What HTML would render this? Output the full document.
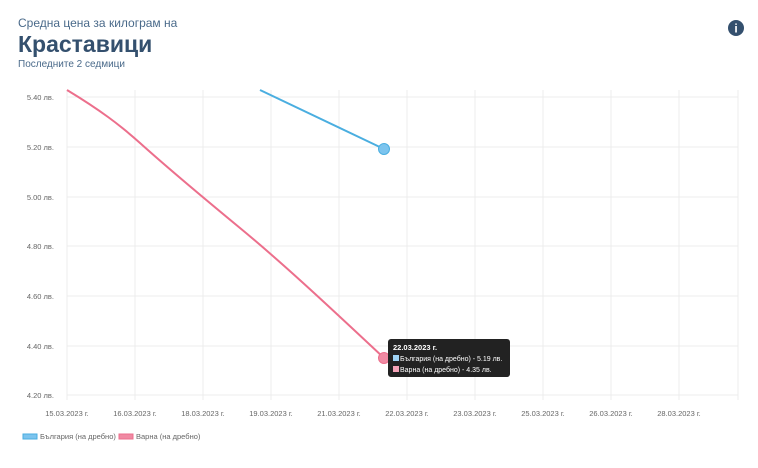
<!DOCTYPE html>
<html><head><meta charset="utf-8"><style>
body{margin:0;width:758px;height:463px;background:#fff;overflow:hidden;font-family:"Liberation Sans",sans-serif;}
</style></head><body>
<svg width="758" height="463" xmlns="http://www.w3.org/2000/svg" font-family="Liberation Sans, sans-serif">
<text x="18" y="27" font-size="12" fill="#4a6a8a">Средна цена за килограм на</text>
<text x="18" y="52" font-size="23" font-weight="bold" fill="#34506e">Краставици</text>
<text x="18" y="67" font-size="10" fill="#4a6a8a">Последните 2 седмици</text>
<circle cx="736" cy="28" r="8" fill="#34506e"/>
<text x="736" y="32.5" font-size="12" font-weight="bold" fill="#fff" text-anchor="middle">i</text>
<g stroke="#ececec" stroke-width="1">
<line x1="67" y1="97" x2="738" y2="97"/><line x1="67" y1="147" x2="738" y2="147"/>
<line x1="67" y1="197" x2="738" y2="197"/><line x1="67" y1="246" x2="738" y2="246"/>
<line x1="67" y1="296" x2="738" y2="296"/><line x1="67" y1="346" x2="738" y2="346"/>
<line x1="67" y1="395" x2="738" y2="395"/>
<line x1="67" y1="90" x2="67" y2="400"/><line x1="135" y1="90" x2="135" y2="400"/>
<line x1="203" y1="90" x2="203" y2="400"/><line x1="271" y1="90" x2="271" y2="400"/>
<line x1="339" y1="90" x2="339" y2="400"/><line x1="407" y1="90" x2="407" y2="400"/>
<line x1="475" y1="90" x2="475" y2="400"/><line x1="543" y1="90" x2="543" y2="400"/>
<line x1="611" y1="90" x2="611" y2="400"/><line x1="679" y1="90" x2="679" y2="400"/>
<line x1="738" y1="90" x2="738" y2="400"/>
</g>
<g font-size="7.5" fill="#666" text-anchor="end">
<text x="54" y="100">5.40 лв.</text><text x="54" y="150">5.20 лв.</text>
<text x="54" y="200">5.00 лв.</text><text x="54" y="249">4.80 лв.</text>
<text x="54" y="299">4.60 лв.</text><text x="54" y="349">4.40 лв.</text>
<text x="54" y="398">4.20 лв.</text>
</g>
<g font-size="7.5" fill="#666" text-anchor="middle">
<text x="67" y="416">15.03.2023 г.</text><text x="135" y="416">16.03.2023 г.</text>
<text x="203" y="416">18.03.2023 г.</text><text x="271" y="416">19.03.2023 г.</text>
<text x="339" y="416">21.03.2023 г.</text><text x="407" y="416">22.03.2023 г.</text>
<text x="475" y="416">23.03.2023 г.</text><text x="543" y="416">25.03.2023 г.</text>
<text x="611" y="416">26.03.2023 г.</text><text x="679" y="416">28.03.2023 г.</text>
</g>
<line x1="260" y1="90" x2="384" y2="149" stroke="#4aaee0" stroke-width="2"/>
<path d="M67,90 C100,110 120,125 140,143 S200,195 240,228 S320,298 384,358" fill="none" stroke="#ec6f8c" stroke-width="2"/>
<circle cx="384" cy="149" r="5.5" fill="#7cc4ee" stroke="#4aaee0"/>
<circle cx="384" cy="358" r="5.5" fill="#f08aa3" stroke="#ec6f8c"/>
<rect x="388" y="339" width="122" height="38" rx="3" fill="#222"/>
<text x="393" y="350" font-size="7.5" font-weight="bold" fill="#fff">22.03.2023 г.</text>
<rect x="393" y="355" width="6" height="6" fill="#9fd3f5"/>
<text x="400" y="361" font-size="7" fill="#fff">България (на дребно) - 5.19 лв.</text>
<rect x="393" y="366" width="6" height="6" fill="#f5a3b8"/>
<text x="400" y="372" font-size="7" fill="#fff">Варна (на дребно) - 4.35 лв.</text>
<rect x="23" y="434" width="14" height="5" fill="#7cc4ee" stroke="#4aaee0"/>
<text x="40" y="439" font-size="7.5" fill="#666">България (на дребно)</text>
<rect x="119" y="434" width="14" height="5" fill="#f08aa3" stroke="#ec6f8c"/>
<text x="136" y="439" font-size="7.5" fill="#666">Варна (на дребно)</text>
</svg>
</body></html>
